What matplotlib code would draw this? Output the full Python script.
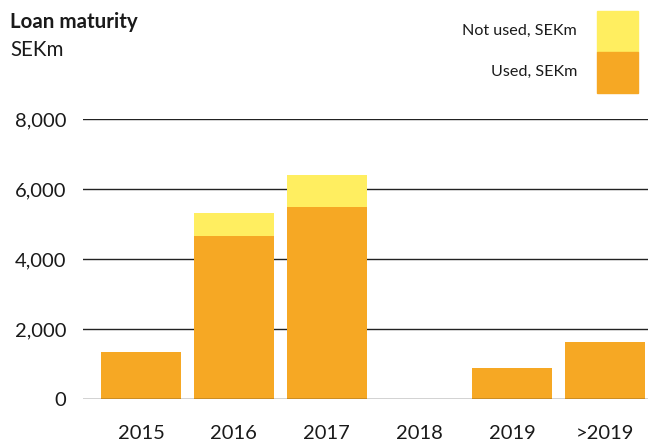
import matplotlib
matplotlib.use("Agg")
import matplotlib.pyplot as plt
from matplotlib.patches import Rectangle
from matplotlib.ticker import FuncFormatter

# Loan maturity profile, SEKm
years = ["2015", "2016", "2017", "2018", "2019", ">2019"]
used = [1350, 4660, 5490, 0, 890, 1640]
not_used = [0, 660, 910, 0, 0, 0]
y_ticks = [0, 2000, 4000, 6000, 8000]

ORANGE = "#F6A824"
YELLOW = "#FFEE60"
LINE = "#222222"
TEXT = "#1a1a1a"

plt.rcParams["font.family"] = ["Lato", "DejaVu Sans"]

fig = plt.figure(figsize=(6.48, 4.43), dpi=100)
ax = fig.add_axes([83 / 648, 44 / 443, 1 - 83 / 648, 280 / 443])

x = list(range(len(years)))
ax.bar(x, used, width=0.862, color=ORANGE, zorder=2)
ax.bar(x, not_used, width=0.862, bottom=used, color=YELLOW, zorder=2)

for t in y_ticks:
    ax.axhline(t, color=LINE, lw=1.0, zorder=1 if t else 3)

ax.set_xlim(-0.625, 5.46)
ax.set_ylim(0, 8000)
ax.set_yticks(y_ticks)
ax.yaxis.set_major_formatter(FuncFormatter(lambda v, _: f"{int(v):,}"))
ax.set_xticks(x)
ax.set_xticklabels(years)
ax.tick_params(axis="both", length=0, labelsize=14.5, colors=TEXT)
ax.tick_params(axis="x", pad=19)
ax.tick_params(axis="y", pad=12)
for s in ax.spines.values():
    s.set_visible(False)

fig.text(10 / 648, 1 - 22 / 443, "Loan maturity", fontsize=14.8,
         fontweight="bold", color=TEXT, va="center")
fig.text(10 / 648, 1 - 50 / 443, "SEKm", fontsize=14.8, color=TEXT,
         va="center")

# legend swatches
fig.add_artist(Rectangle((597 / 648, 1 - 52 / 443), 41 / 648, 41 / 443,
                         transform=fig.transFigure, color=YELLOW))
fig.add_artist(Rectangle((597 / 648, 1 - 93 / 443), 41 / 648, 41 / 443,
                         transform=fig.transFigure, color=ORANGE))
fig.text(577 / 648, 1 - 31 / 443, "Not used, SEKm", fontsize=11.6,
         color=TEXT, ha="right", va="center")
fig.text(577 / 648, 1 - 72 / 443, "Used, SEKm", fontsize=11.6,
         color=TEXT, ha="right", va="center")

fig.savefig("out.png", dpi=100)
